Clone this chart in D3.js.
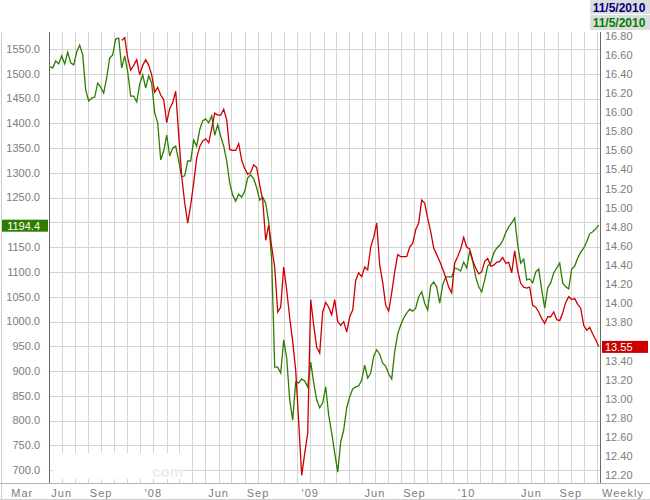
<!DOCTYPE html>
<html>
<head>
<meta charset="utf-8">
<script src="https://cdn.jsdelivr.net/npm/d3@7"></script>
<style>
html,body{margin:0;padding:0;background:#fff;}
svg{display:block;font-family:Arial,"Liberation Sans",sans-serif;}
</style>
</head>
<body>
<svg id="chart" width="650" height="500"></svg>
<script>
// ---- Data (weekly closes) ----
const firstWeek = new Date(2007, 4, 4);      // first weekly point (green)
const lastWeek = new Date(2010, 10, 5);      // last weekly point
const redFirstWeek = new Date(2007, 9, 19);  // red series starts later

// Green series (left axis)
const greenValues = [
1514,1512,1526,1520,1536,1520,1544,1522,1518,1544,
1558,1538,1467,1445,1451,1453,1481,1473,1461,1492,
1532,1538,1570,1572,1512,1536,1504,1455,1455,1443,
1479,1498,1471,1496,1481,1421,1401,1326,1344,1376,
1334,1350,1354,1324,1292,1294,1324,1324,1366,1354,
1387,1405,1409,1401,1415,1376,1397,1374,1354,1324,
1280,1255,1243,1257,1251,1263,1290,1296,1288,1270,
1245,1251,1239,1201,1124,908,908,896,963,926,
842,801,878,876,884,880,868,918,876,842,
826,836,868,811,775,735,696,757,781,826,
848,864,868,870,882,912,886,896,930,943,
934,916,910,894,884,939,975,993,1007,1017,
1025,1021,1027,1050,1060,1037,1023,1072,1080,1070,
1037,1074,1090,1090,1090,1108,1106,1102,1120,1108,
1142,1122,1090,1070,1060,1084,1112,1118,1138,1148,
1154,1163,1179,1191,1199,1209,1154,1118,1126,1084,
1086,1078,1100,1106,1064,1027,1068,1078,1098,1108,
1118,1078,1070,1066,1106,1112,1128,1140,1148,1161,
1177,1181,1187,1194.4
];

// Red series (right axis)
const redValues = [
16.75,16.78,16.57,16.44,16.49,16.55,16.39,16.49,16.55,16.49,
16.39,16.21,16.26,16.18,16.13,15.89,16.04,16.10,16.22,15.76,
15.33,15.05,14.84,15.03,15.26,15.52,15.64,15.70,15.72,15.68,
15.83,15.99,15.97,15.97,16.03,15.92,15.61,15.60,15.60,15.67,
15.50,15.41,15.35,15.37,15.45,15.42,15.24,15.08,14.66,14.82,
14.59,14.38,13.91,13.96,14.38,14.14,13.85,13.60,13.30,12.76,
12.20,12.43,12.64,14.04,13.77,13.54,13.48,13.91,14.01,13.96,
13.88,14.04,13.81,13.77,13.81,13.70,13.86,13.93,14.24,14.32,
14.28,14.38,14.35,14.59,14.69,14.84,14.40,14.22,13.98,13.92,
14.11,14.33,14.51,14.49,14.49,14.49,14.59,14.63,14.77,14.84,
15.08,15.05,14.89,14.75,14.58,14.51,14.44,14.36,14.27,14.17,
14.11,14.42,14.49,14.57,14.69,14.59,14.57,14.45,14.37,14.31,
14.33,14.44,14.47,14.39,14.40,14.43,14.44,14.48,14.42,14.43,
14.32,14.55,14.34,14.21,14.17,14.16,14.17,13.98,13.96,13.91,
13.84,13.79,13.86,13.86,13.91,13.83,13.82,13.90,14.01,14.07,
14.04,14.05,13.99,13.95,13.77,13.72,13.75,13.68,13.62,13.55
];

const leftTicks = d3.range(700, 1551, 50);
const rightTicks = d3.range(12.2, 16.81, 0.2);
const xLabels = [
  {d: new Date(2007, 2, 1), t: "Mar"},
  {d: new Date(2007, 5, 1), t: "Jun"},
  {d: new Date(2007, 8, 1), t: "Sep"},
  {d: new Date(2008, 0, 1), t: "'08"},
  {d: new Date(2008, 5, 1), t: "Jun"},
  {d: new Date(2008, 8, 1), t: "Sep"},
  {d: new Date(2009, 0, 1), t: "'09"},
  {d: new Date(2009, 5, 1), t: "Jun"},
  {d: new Date(2009, 8, 1), t: "Sep"},
  {d: new Date(2010, 0, 1), t: "'10"},
  {d: new Date(2010, 5, 1), t: "Jun"},
  {d: new Date(2010, 8, 1), t: "Sep"}
];
const dateLabel = "11/5/2010";
const greenLast = "1194.4";
const redLast = "13.55";
const periodLabel = "Weekly";

// ---- Layout ----
const L = 49, R = 600, T = 32, B = 483;
const GREEN = "#2f7d00", RED = "#cc0000", GRID = "#d4d4d4", TXT = "#7c7c7c";

const svg = d3.select("#chart");

const greenDates = d3.timeFriday.range(firstWeek, d3.timeDay.offset(lastWeek, 1));
const redDates = d3.timeFriday.range(redFirstWeek, d3.timeDay.offset(lastWeek, 1));
const gData = greenDates.map((d, i) => ({d, v: greenValues[i]})).filter(p => p.v != null);
const rData = redDates.map((d, i) => ({d, v: redValues[i]})).filter(p => p.v != null);

const x = d3.scaleTime().domain([firstWeek, lastWeek]).range([49.7, 598.7]);
const yL = d3.scaleLinear().domain([674.1, 1584.3]).range([B, T]);
const yR = d3.scaleLinear().domain([12.121, 16.839]).range([B, T]);

const gy = yL(greenValues[greenValues.length - 1]);
const ry = yR(redValues[redValues.length - 1]);

// frame
svg.append("line").attr("x1", 1.5).attr("x2", 1.5).attr("y1", T).attr("y2", 499.5).attr("stroke", "#cfcfcf");
svg.append("line").attr("x1", 0).attr("x2", 650).attr("y1", 499.5).attr("y2", 499.5).attr("stroke", "#cfcfcf");

// grid: vertical monthly
const months = d3.timeMonth.range(x.invert(L), x.invert(R));
svg.append("g").selectAll("line").data(months).join("line")
  .attr("x1", d => Math.round(x(d)) + 0.5).attr("x2", d => Math.round(x(d)) + 0.5)
  .attr("y1", T).attr("y2", B).attr("stroke", GRID);
// grid: horizontal (left ticks)
svg.append("g").selectAll("line").data(leftTicks).join("line")
  .attr("x1", L).attr("x2", R)
  .attr("y1", d => Math.round(yL(d)) + 0.5).attr("y2", d => Math.round(yL(d)) + 0.5)
  .attr("stroke", GRID);

// watermark box
svg.append("rect").attr("x", 53).attr("y", 453).attr("width", 130).attr("height", 26).attr("fill", "#fff");
svg.append("text").attr("x", 183).attr("y", 477).attr("text-anchor", "end")
  .attr("font-size", 15).attr("font-weight", "bold").attr("fill", "#ececec").text("com");

// axis lines
svg.append("line").attr("x1", 0).attr("x2", 650).attr("y1", B + 0.5).attr("y2", B + 0.5).attr("stroke", "#b5b5b5");
svg.append("line").attr("x1", L + 0.5).attr("x2", L + 0.5).attr("y1", T).attr("y2", B).attr("stroke", "#6a6a6a");
svg.append("line").attr("x1", R + 0.5).attr("x2", R + 0.5).attr("y1", T).attr("y2", B).attr("stroke", "#6a6a6a");

// left labels (the one hidden behind the last-value tag is not drawn)
svg.append("g").selectAll("text").data(leftTicks.filter(d => Math.abs(yL(d) - gy) > 11)).join("text")
  .attr("x", 40).attr("y", d => yL(d)).attr("dy", "0.35em").attr("text-anchor", "end")
  .attr("font-size", 11).attr("fill", TXT).text(d => d3.format(".1f")(d));
// right labels
svg.append("g").selectAll("text").data(rightTicks.filter(d => Math.abs(yR(d) - ry) > 11)).join("text")
  .attr("x", 605).attr("y", d => yR(d)).attr("dy", "0.35em")
  .attr("font-size", 11).attr("fill", TXT).text(d => d3.format(".2f")(d));
// bottom labels
svg.append("g").selectAll("text").data(xLabels).join("text")
  .attr("x", d => x(d.d)).attr("y", 497).attr("text-anchor", "middle")
  .attr("font-size", 11).attr("letter-spacing", "1px").attr("fill", TXT).text(d => d.t);
svg.append("text").attr("x", 623).attr("y", 497).attr("text-anchor", "middle")
  .attr("font-size", 11).attr("letter-spacing", "1px").attr("fill", TXT).text(periodLabel);

// lines
const lineG = d3.line().x(d => x(d.d)).y(d => yL(d.v));
const lineR = d3.line().x(d => x(d.d)).y(d => yR(d.v));
svg.append("path").datum(gData).attr("d", lineG).attr("fill", "none").attr("stroke", GREEN).attr("stroke-width", 1.3);
svg.append("path").datum(rData).attr("d", lineR).attr("fill", "none").attr("stroke", RED).attr("stroke-width", 1.3);

// last value tags
svg.append("rect").attr("x", 2).attr("y", gy - 5.5).attr("width", 46).attr("height", 12).attr("fill", GREEN);
svg.append("text").attr("x", 40).attr("y", gy + 0.5).attr("dy", "0.35em").attr("text-anchor", "end")
  .attr("font-size", 11).attr("fill", "#fff").text(greenLast);
svg.append("rect").attr("x", 602).attr("y", ry - 5.5).attr("width", 46).attr("height", 12).attr("fill", RED);
svg.append("text").attr("x", 605).attr("y", ry + 0.5).attr("dy", "0.35em")
  .attr("font-size", 11).attr("fill", "#fff").text(redLast);

// date boxes
svg.append("rect").attr("x", 590).attr("y", 0).attr("width", 60).attr("height", 14).attr("fill", "#dcdcdc");
svg.append("text").attr("x", 619).attr("y", 11.5).attr("text-anchor", "middle").attr("font-size", 12)
  .attr("font-weight", "bold").attr("fill", "#000080").text(dateLabel);
svg.append("rect").attr("x", 590).attr("y", 15).attr("width", 60).attr("height", 15).attr("fill", "#dcdcdc");
svg.append("text").attr("x", 619).attr("y", 27).attr("text-anchor", "middle").attr("font-size", 12)
  .attr("font-weight", "bold").attr("fill", "#008000").text(dateLabel);
</script>
</body>
</html>
